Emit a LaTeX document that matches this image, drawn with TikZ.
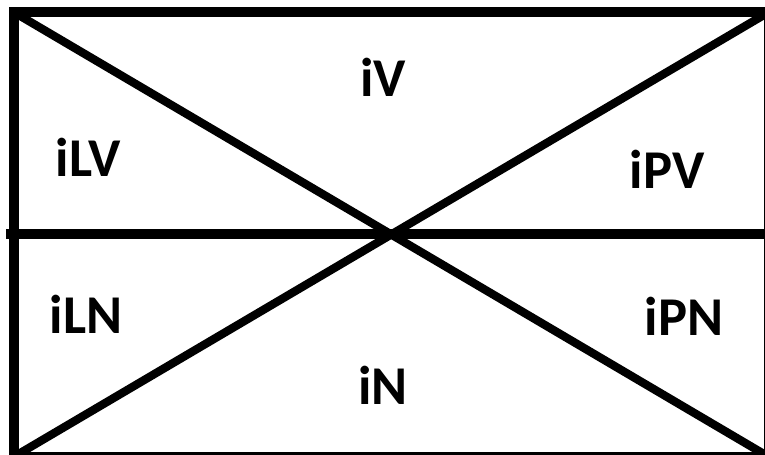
\documentclass[tikz,border=0pt]{standalone}
\usepackage{fontspec}
\setmainfont{Carlito}
\begin{document}
\begin{tikzpicture}[x=0.75pt,y=-0.75pt,
  frame/.style={line width=7.5pt},
  diag/.style={line width=6.2pt},
  lab/.style={font=\fontsize{41}{48}\selectfont\bfseries, anchor=base, inner sep=0pt}]
\useasboundingbox (0,0) rectangle (765,454);
\fill[white] (0,0) rectangle (765,454);
\coordinate (tl) at (13.5,12);
\coordinate (tr) at (769,12);
\coordinate (bl) at (13.5,457);
\coordinate (br) at (769,457);
\coordinate (ml) at (6,234);
\coordinate (mr) at (770,234);
\draw[frame] (tl) rectangle (br);
\draw[frame] (ml) -- (mr);
\draw[diag] (tl) -- (br);
\draw[diag] (bl) -- (tr);
\node[lab] (iV) at (383,96) {iV};
\node[lab] (iLV) at (88,176) {iLV};
\node[lab] (iPV) at (667,188) {iPV};
\node[lab] (iLN) at (86,333) {iLN};
\node[lab] (iPN) at (684,335) {iPN};
\node[lab] (iN) at (383,404) {iN};
\end{tikzpicture}
\end{document}
